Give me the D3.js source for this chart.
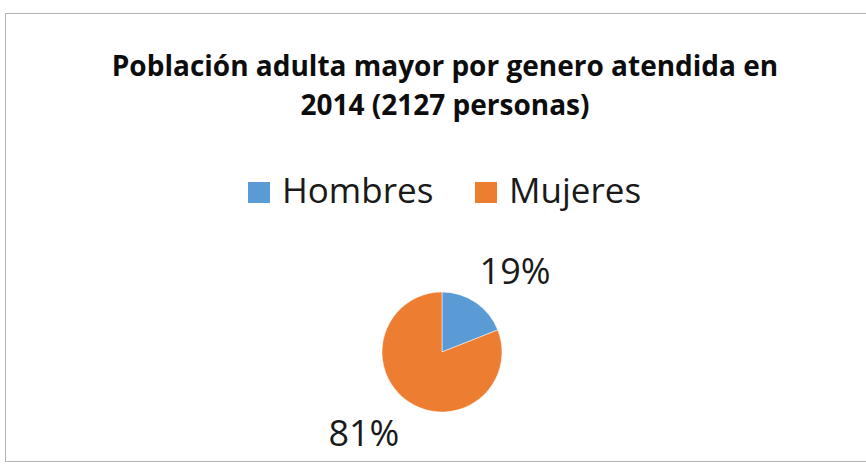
<!DOCTYPE html>
<html>
<head>
<meta charset="utf-8">
<script src="https://cdn.jsdelivr.net/npm/d3@7"></script>
<style>
  body { margin: 0; background: #fff; }
  text { font-family: "Open Sans", "Liberation Sans", sans-serif; }
</style>
</head>
<body>
<svg id="chart"></svg>
<script>
// data
var categories = ["Hombres", "Mujeres"];
var shares = [19, 81];
var colors = ["#5B9BD5", "#ED7D31"];
var titleLines = ["Población adulta mayor por genero atendida en", "2014 (2127 personas)"];

var width = 866, height = 468;

var svg = d3.select("#chart")
    .attr("width", width)
    .attr("height", height);

// chart frame
svg.append("rect")
    .attr("x", 5.5)
    .attr("y", 13.5)
    .attr("width", 880)
    .attr("height", 448)
    .attr("fill", "#fff")
    .attr("stroke", "#b4b4b4")
    .attr("stroke-width", 1);

// title
svg.append("g")
    .selectAll("text")
    .data(titleLines)
    .enter().append("text")
    .attr("x", 445)
    .attr("y", function(d, i) { return 76 + i * 39; })
    .attr("text-anchor", "middle")
    .attr("font-size", 28)
    .attr("font-weight", "bold")
    .attr("fill", "#0d0d0d")
    .text(function(d) { return d; });

// legend
var legendX = d3.scaleOrdinal().domain(categories).range([248, 475]);
var legend = svg.append("g")
    .selectAll("g")
    .data(categories)
    .enter().append("g")
    .attr("transform", function(d) { return "translate(" + legendX(d) + ",182)"; });

legend.append("rect")
    .attr("width", 22)
    .attr("height", 21)
    .attr("fill", function(d, i) { return colors[i]; });

legend.append("text")
    .attr("x", 34)
    .attr("y", 21)
    .attr("font-size", 35)
    .attr("fill", "#1a1a1a")
    .text(function(d) { return d; });

// pie
var cx = 442, cy = 352, r = 60;
var pie = d3.pie().sort(null);
var arc = d3.arc().innerRadius(0).outerRadius(r);
var arcs = pie(shares);

var g = svg.append("g").attr("transform", "translate(" + cx + "," + cy + ")");

g.selectAll("path")
    .data(arcs)
    .enter().append("path")
    .attr("d", arc)
    .attr("fill", function(d, i) { return colors[i]; })
    .attr("stroke", "#fff")
    .attr("stroke-width", 0.5);

// data labels, outside the pie, pushed sideways a bit like Excel's best fit
var labelArc = d3.arc().innerRadius(98).outerRadius(98);
g.selectAll("text")
    .data(arcs)
    .enter().append("text")
    .attr("transform", function(d) {
        var c = labelArc.centroid(d);
        var x = c[0] + (c[0] > 0 ? 18 : -23);
        return "translate(" + x + "," + c[1] + ")";
    })
    .attr("text-anchor", "middle")
    .attr("dy", "0.36em")
    .attr("font-size", 36)
    .attr("fill", "#1a1a1a")
    .text(function(d) { return d.value + "%"; });
</script>
</body>
</html>
